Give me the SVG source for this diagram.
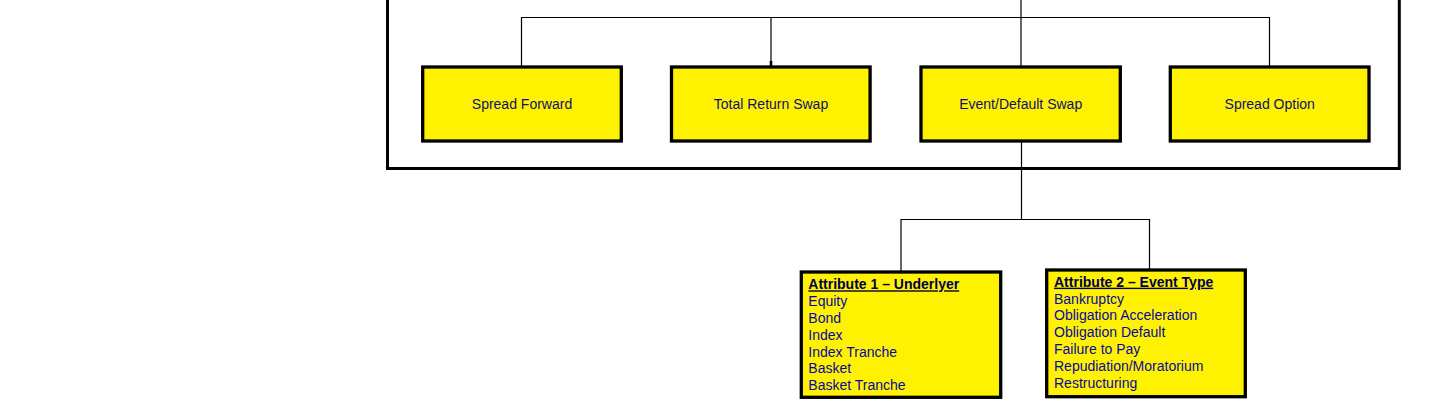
<svg xmlns="http://www.w3.org/2000/svg" width="1451" height="405" viewBox="0 0 1451 405">
<style>
.box{fill:#fff200;stroke:#000;stroke-width:3.3}
.lbl{font-family:"Liberation Sans",Arial,sans-serif;font-size:14px;fill:#10106e;text-anchor:middle}
.lst{font-family:"Liberation Sans",Arial,sans-serif;font-size:14px;fill:#0808a0}
.ttl{font-weight:bold;text-decoration:underline;fill:#000050}
.con{fill:none;stroke:#000;stroke-width:1.2}
</style>
<rect width="1451" height="405" fill="#fff"/>
<g id="container">
<rect x="387.5" y="-20" width="1011.8" height="188.5" fill="none" stroke="#000" stroke-width="3"/>
</g>
<g id="connectors">
<path class="con" d="M1021,0 V67 M521.5,67 V17.5 H1269.5 V67 M771,17.5 V67"/>
<rect x="769.7" y="61" width="2.6" height="6" fill="#000"/>
<path class="con" d="M1021.5,141 V219.5 M901,272 V219.5 H1149.5 V270"/>
</g>
<g id="spread-forward">
<rect class="box" x="422.7" y="67" width="198.6" height="74"/>
<text class="lbl" x="522" y="109">Spread Forward</text>
</g>
<g id="total-return-swap">
<rect class="box" x="671.5" y="67" width="198.6" height="74"/>
<text class="lbl" x="771" y="109">Total Return Swap</text>
</g>
<g id="event-default-swap">
<rect class="box" x="921" y="67" width="199.3" height="74"/>
<text class="lbl" x="1020.7" y="109">Event/Default Swap</text>
</g>
<g id="spread-option">
<rect class="box" x="1170.3" y="67" width="198.7" height="74"/>
<text class="lbl" x="1269.7" y="109">Spread Option</text>
</g>
<g id="attribute-1">
<rect class="box" x="801.3" y="272" width="199.4" height="125.3"/>
<text class="lst" x="808.3">
<tspan class="ttl" x="808.3" y="289.3">Attribute 1 – Underlyer</tspan>
<tspan x="808.3" y="306.1">Equity</tspan>
<tspan x="808.3" y="322.9">Bond</tspan>
<tspan x="808.3" y="339.7">Index</tspan>
<tspan x="808.3" y="356.5">Index Tranche</tspan>
<tspan x="808.3" y="373.3">Basket</tspan>
<tspan x="808.3" y="390.1">Basket Tranche</tspan>
</text>
</g>
<g id="attribute-2">
<rect class="box" x="1046.7" y="270" width="198.6" height="126.7"/>
<text class="lst" x="1054">
<tspan class="ttl" x="1054" y="286.7">Attribute 2 – Event Type</tspan>
<tspan x="1054" y="303.5">Bankruptcy</tspan>
<tspan x="1054" y="320.3">Obligation Acceleration</tspan>
<tspan x="1054" y="337.1">Obligation Default</tspan>
<tspan x="1054" y="353.9">Failure to Pay</tspan>
<tspan x="1054" y="370.7">Repudiation/Moratorium</tspan>
<tspan x="1054" y="387.5">Restructuring</tspan>
</text>
</g>
</svg>
